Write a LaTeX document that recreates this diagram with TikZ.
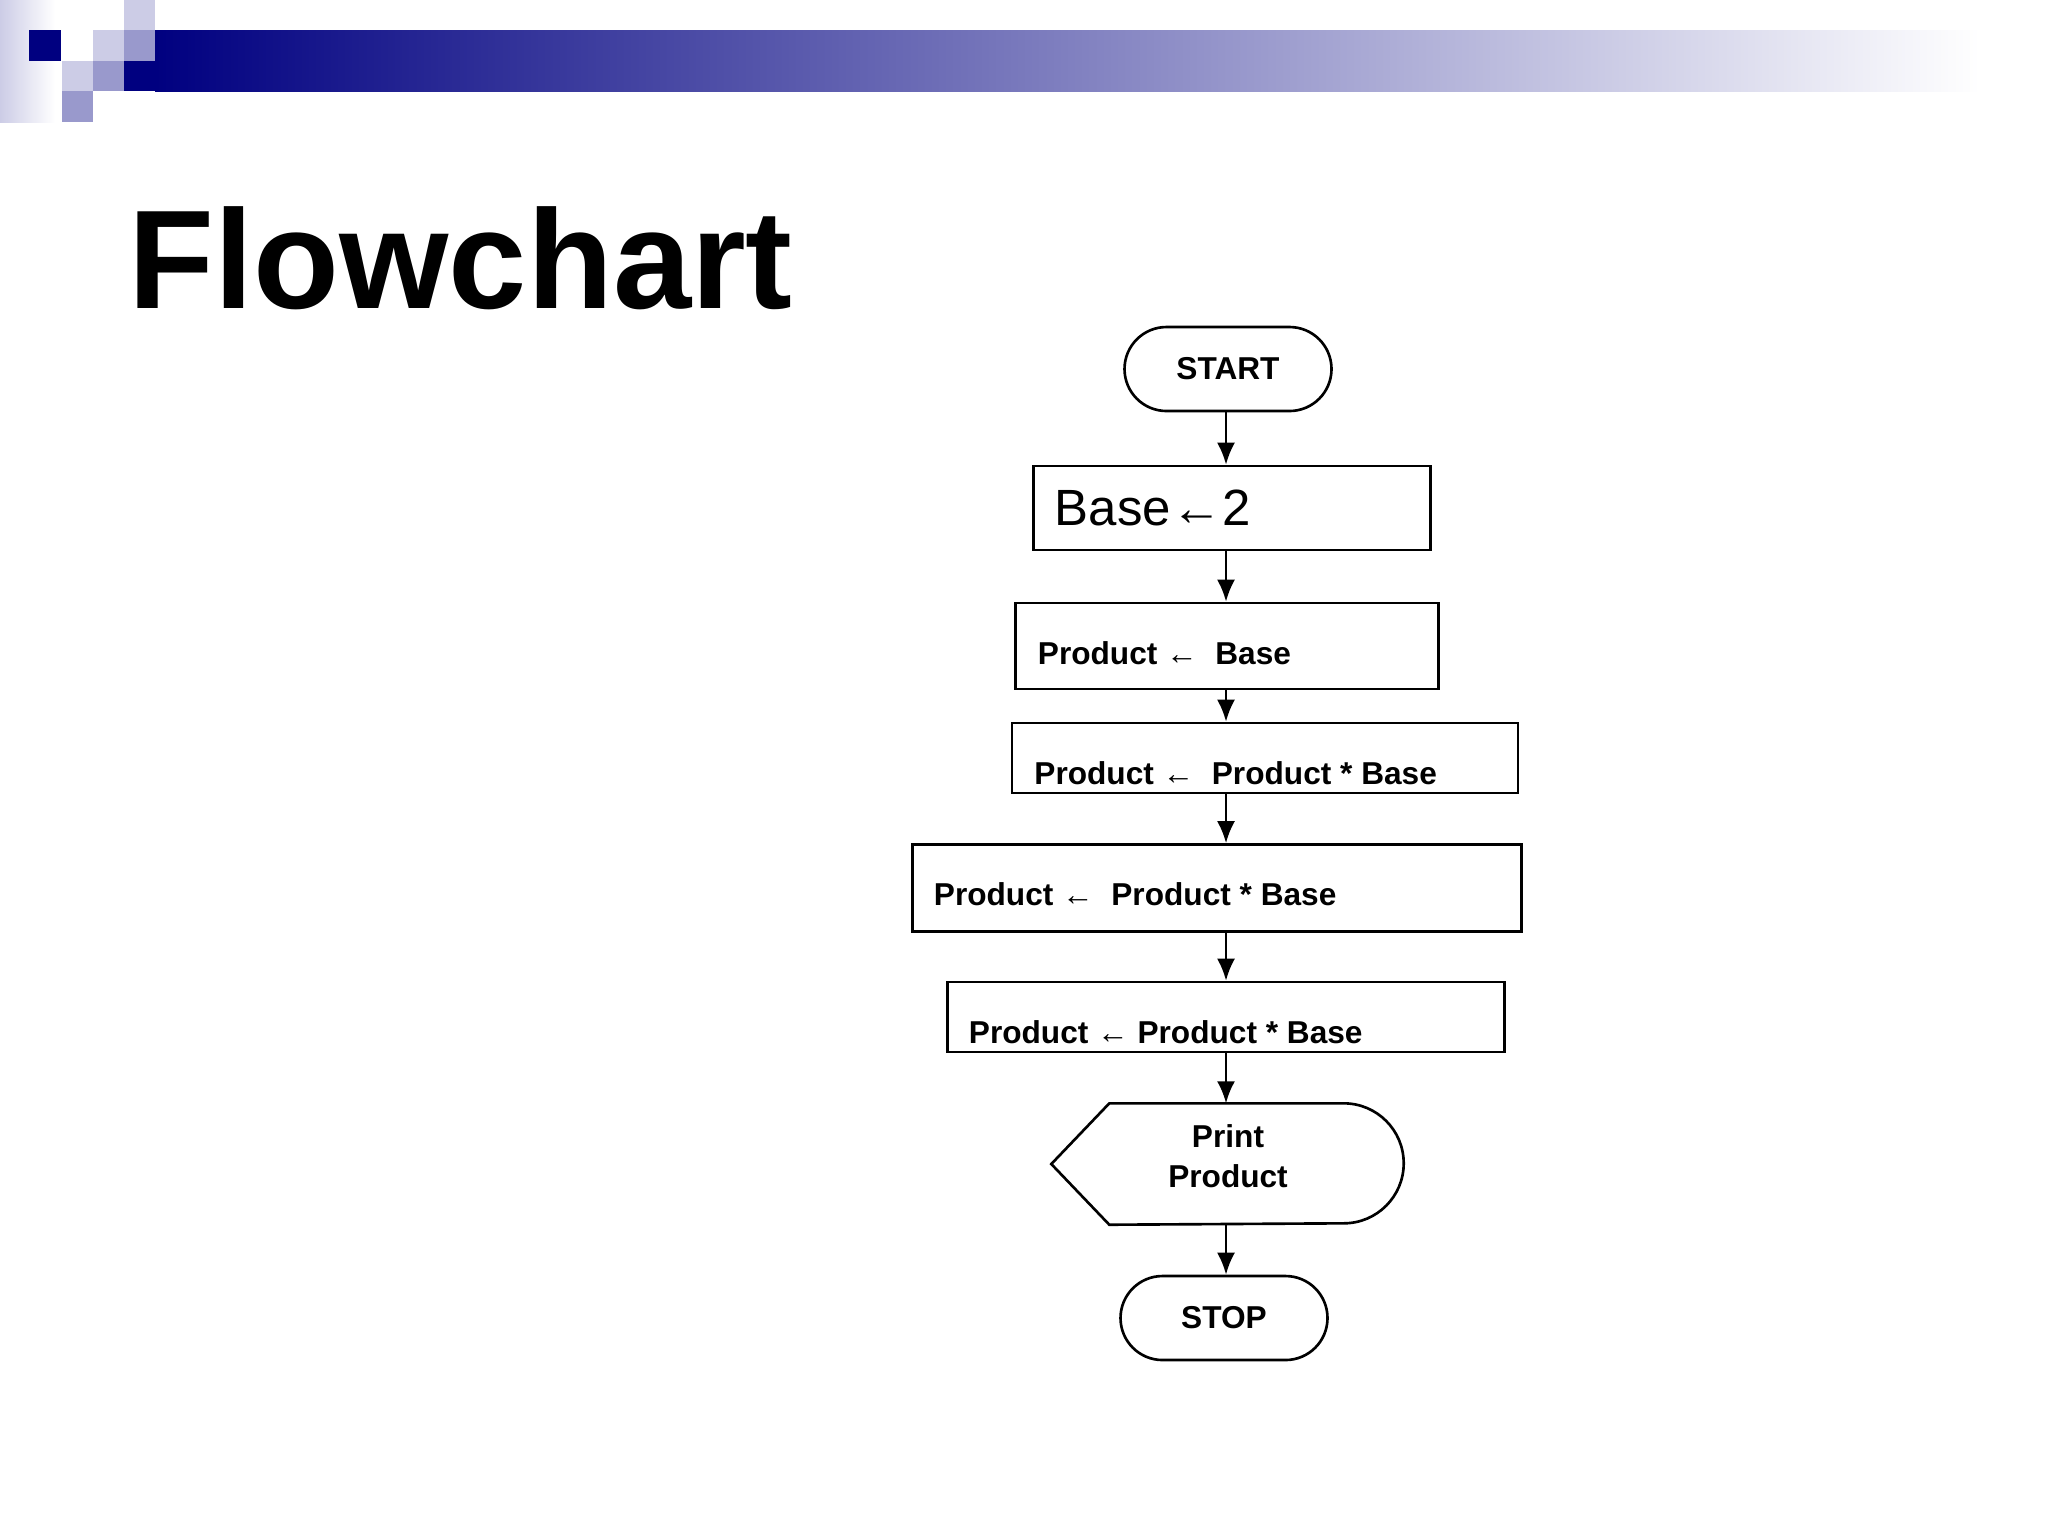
\documentclass[tikz,border=0pt]{standalone}
\usepackage{fontspec}
\setmainfont{Liberation Sans}
\usetikzlibrary{arrows.meta,calc}

\definecolor{navy}{RGB}{0,0,128}
\definecolor{lavlight}{RGB}{204,204,230}
\definecolor{lavmid}{RGB}{153,153,204}

\tikzset{
  term/.style={draw, line width=0.75pt, rectangle, rounded corners=4.2mm, minimum width=20.7mm, minimum height=8.4mm, font=\fontsize{9}{10}\selectfont\bfseries},
  procbox/.style={draw, line width=0.75pt, rectangle, inner sep=0pt},
  boxtext/.style={anchor=west, inner sep=0pt, font=\fontsize{9}{10}\selectfont\bfseries},
  flow/.style={line width=0.75pt, -{Latex[length=2.2mm,width=1.8mm]}}
}

\begin{document}
\begin{tikzpicture}[x=0.1mm, y=-0.1mm]
\useasboundingbox (0,0) rectangle (2048,1536);
% header
\shade[left color=lavlight, right color=white] (0,0) rectangle (55,122);
\shade[left color=navy, right color=white] (155,30) rectangle (1980,91);
\fill[navy] (124,61) rectangle (155,91);
\fill[navy] (29,30) rectangle (61,61);
\fill[lavlight] (124,0) rectangle (155,30);
\fill[lavlight] (93,30) rectangle (124,61);
\fill[lavmid] (124,30) rectangle (155,61);
\fill[lavlight] (62,61) rectangle (93,91);
\fill[lavmid] (93,61) rectangle (124,91);
\fill[lavmid] (62,91) rectangle (93,122);

\node[anchor=base west, inner sep=0pt, font=\fontsize{40}{44}\selectfont\bfseries] (title) at (128,308) {Flowchart};

% flowchart
\coordinate (ax) at (1226,0);
\node[term] (start) at (1228,369) {START};
\node[procbox, minimum width=39.7mm, minimum height=8.4mm] (b1) at (1232,508) {};
\node[boxtext, font=\fontsize{14.5}{16}\selectfont] (t1) at ($(b1.west)+(22,0)$) {Base←2};
\node[procbox, minimum width=42.3mm, minimum height=8.6mm] (b2) at (1227,646) {};
\node[boxtext] (t2) at ($(b2.west)+(23,7)$) {Product ← \ Base};
\node[procbox, minimum width=50.6mm, minimum height=7mm] (b3) at (1265,758) {};
\node[boxtext] (t3) at ($(b3.west)+(23,15)$) {Product ← \ Product * Base};
\node[procbox, minimum width=60.9mm, minimum height=8.7mm] (b4) at (1217,888) {};
\node[boxtext] (t4) at ($(b4.west)+(22,6)$) {Product ← \ Product * Base};
\node[procbox, minimum width=55.7mm, minimum height=7mm] (b5) at (1226,1017) {};
\node[boxtext] (t5) at ($(b5.west)+(22,15)$) {Product ← Product * Base};
\node[minimum width=35.1mm, minimum height=12mm, inner sep=0pt] (pr) at (1227.5,1164) {};
\draw[line width=0.75pt] (pr.west) -- ($(pr.north west)+(58,0)$) -- ($(pr.north east)+(-60,0)$)
  arc[start angle=90, end angle=-90, radius=6mm] -- ($(pr.south west)+(58,0)$) -- cycle;
\node[align=center, font=\fontsize{9}{11.5}\selectfont\bfseries] (prt) at (1228,1156) {Print\\Product};
\node[term] (stop) at (1224,1318) {STOP};

\draw[flow] (start.south -| ax) -- (b1.north -| ax);
\draw[flow] (b1.south -| ax) -- (b2.north -| ax);
\draw[flow] (b2.south -| ax) -- (b3.north -| ax);
\draw[flow] (b3.south -| ax) -- (b4.north -| ax);
\draw[flow] (b4.south -| ax) -- (b5.north -| ax);
\draw[flow] (b5.south -| ax) -- (pr.north -| ax);
\draw[flow] (pr.south -| ax) -- (stop.north -| ax);
\end{tikzpicture}
\end{document}
